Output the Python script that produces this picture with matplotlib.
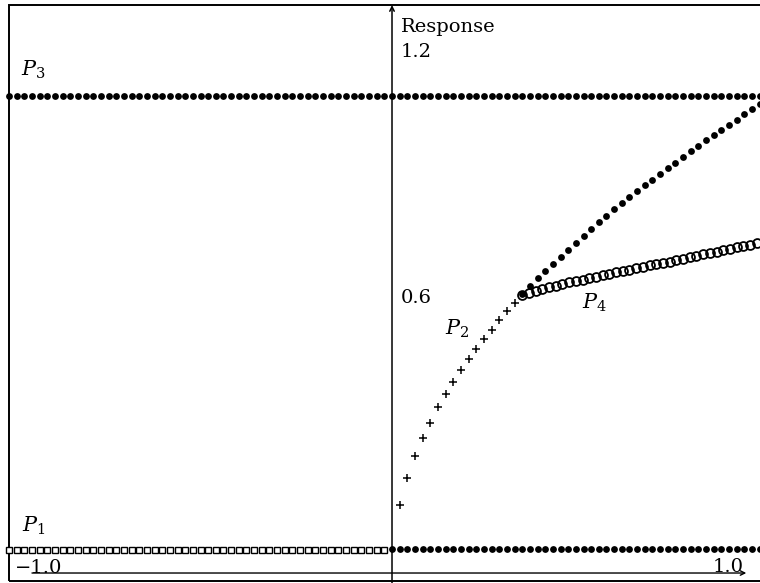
import numpy as np
import matplotlib
matplotlib.use("Agg")
import matplotlib.pyplot as plt
from matplotlib.patches import Rectangle

plt.rcParams['font.family'] = 'DejaVu Serif'
plt.rcParams['mathtext.fontset'] = 'dejavuserif'

# sampling grids (uniform steps in x)
x_p1 = np.round(np.arange(-1.0, -0.01, 0.02), 3)
x_p3 = np.round(np.arange(-1.0, 0.97, 0.02), 3)
x_p0 = np.round(np.arange(0.0, 0.97, 0.02), 3)
x_p5 = np.round(np.arange(0.34, 0.97, 0.02), 3)
x_p4 = np.round(np.arange(0.34, 0.96, 0.0175), 4)

# constant branches
y_p1 = 0.049
y_p3 = 1.008
y_p0 = 0.051

# rising branch (plus markers)
x_p2 = [0.02, 0.04, 0.06, 0.08, 0.10, 0.12, 0.14, 0.16,
        0.18, 0.20, 0.22, 0.24, 0.26, 0.28, 0.30, 0.32]
y_p2 = [0.144, 0.201, 0.247, 0.285, 0.317, 0.351, 0.378, 0.404,
        0.429, 0.452, 0.473, 0.494, 0.513, 0.535, 0.554, 0.570]

# upper branch after the split (filled dots)
y_p5 = [0.589, 0.606, 0.623, 0.639, 0.653, 0.668, 0.683, 0.698,
        0.712, 0.727, 0.742, 0.754, 0.769, 0.782, 0.794, 0.807,
        0.819, 0.830, 0.843, 0.855, 0.866, 0.879, 0.892, 0.902,
        0.914, 0.925, 0.936, 0.947, 0.957, 0.969, 0.980, 0.992]

# lower branch after the split (open circles)
y_p4 = [0.587, 0.592, 0.596, 0.600, 0.604, 0.607, 0.610, 0.614,
        0.617, 0.620, 0.623, 0.626, 0.629, 0.632, 0.635, 0.638,
        0.641, 0.644, 0.647, 0.650, 0.652, 0.655, 0.658, 0.661,
        0.664, 0.667, 0.670, 0.673, 0.676, 0.679, 0.682, 0.685,
        0.688, 0.691, 0.694, 0.697]

fig = plt.figure(figsize=(7.6, 5.83), dpi=100)
ax = fig.add_axes([0, 0, 1, 1])
ax.set_xlim(-1.0235, 0.9608)
ax.set_ylim(-0.0211, 1.2107)
ax.axis('off')

# outer frame
ax.add_patch(Rectangle((-1.0, -0.017), 2.0, 1.217, fill=False,
                       lw=1.4, ec='black', clip_on=False))

# axes with arrow heads
ax.annotate('', xy=(0.925, 0.0), xytext=(-0.94, 0.0),
            arrowprops=dict(arrowstyle='->', lw=1.0, color='black',
                            shrinkA=0, shrinkB=0, mutation_scale=8))
ax.annotate('', xy=(0.0, 1.2), xytext=(0.0, -0.03),
            arrowprops=dict(arrowstyle='->', lw=1.1, color='black',
                            shrinkA=0, shrinkB=0, mutation_scale=8))

dot = dict(color='black', ms=4.9, mew=0, linestyle='none')
ax.plot(x_p3, [y_p3] * len(x_p3), 'o', **dot)
ax.plot(x_p0, [y_p0] * len(x_p0), 'o', **dot)
ax.plot(x_p1, [y_p1] * len(x_p1), 's', mfc='white', mec='black',
        ms=4.0, mew=1.0)
ax.plot(x_p2, y_p2, '+', color='black', ms=6.2, mew=1.1)
ax.plot(x_p4[:len(y_p4)], y_p4, 'o', mfc='none', mec='black', ms=6.4,
        mew=1.3, zorder=3)
ax.plot(x_p5, y_p5, 'o', zorder=4, **dot)

fs = 14
ax.text(0.0235, 1.143, 'Response', fontsize=fs, va='baseline')
ax.text(0.0235, 1.090, '1.2', fontsize=fs, va='baseline')
ax.text(0.0235, 0.570, '0.6', fontsize=fs, va='baseline')
ax.text(-0.984, 0.0, '\u22121.0', fontsize=fs, va='baseline')
ax.text(0.836, 0.002, '1.0', fontsize=fs, va='baseline')

ax.text(-0.969, 1.050, '$P_3$', fontsize=15, va='baseline')
ax.text(-0.966, 0.0866, '$P_1$', fontsize=15, va='baseline')
ax.text(0.138, 0.503, '$P_2$', fontsize=15, va='baseline')
ax.text(0.496, 0.558, '$P_4$', fontsize=15, va='baseline')

fig.savefig('out.png', dpi=100)
